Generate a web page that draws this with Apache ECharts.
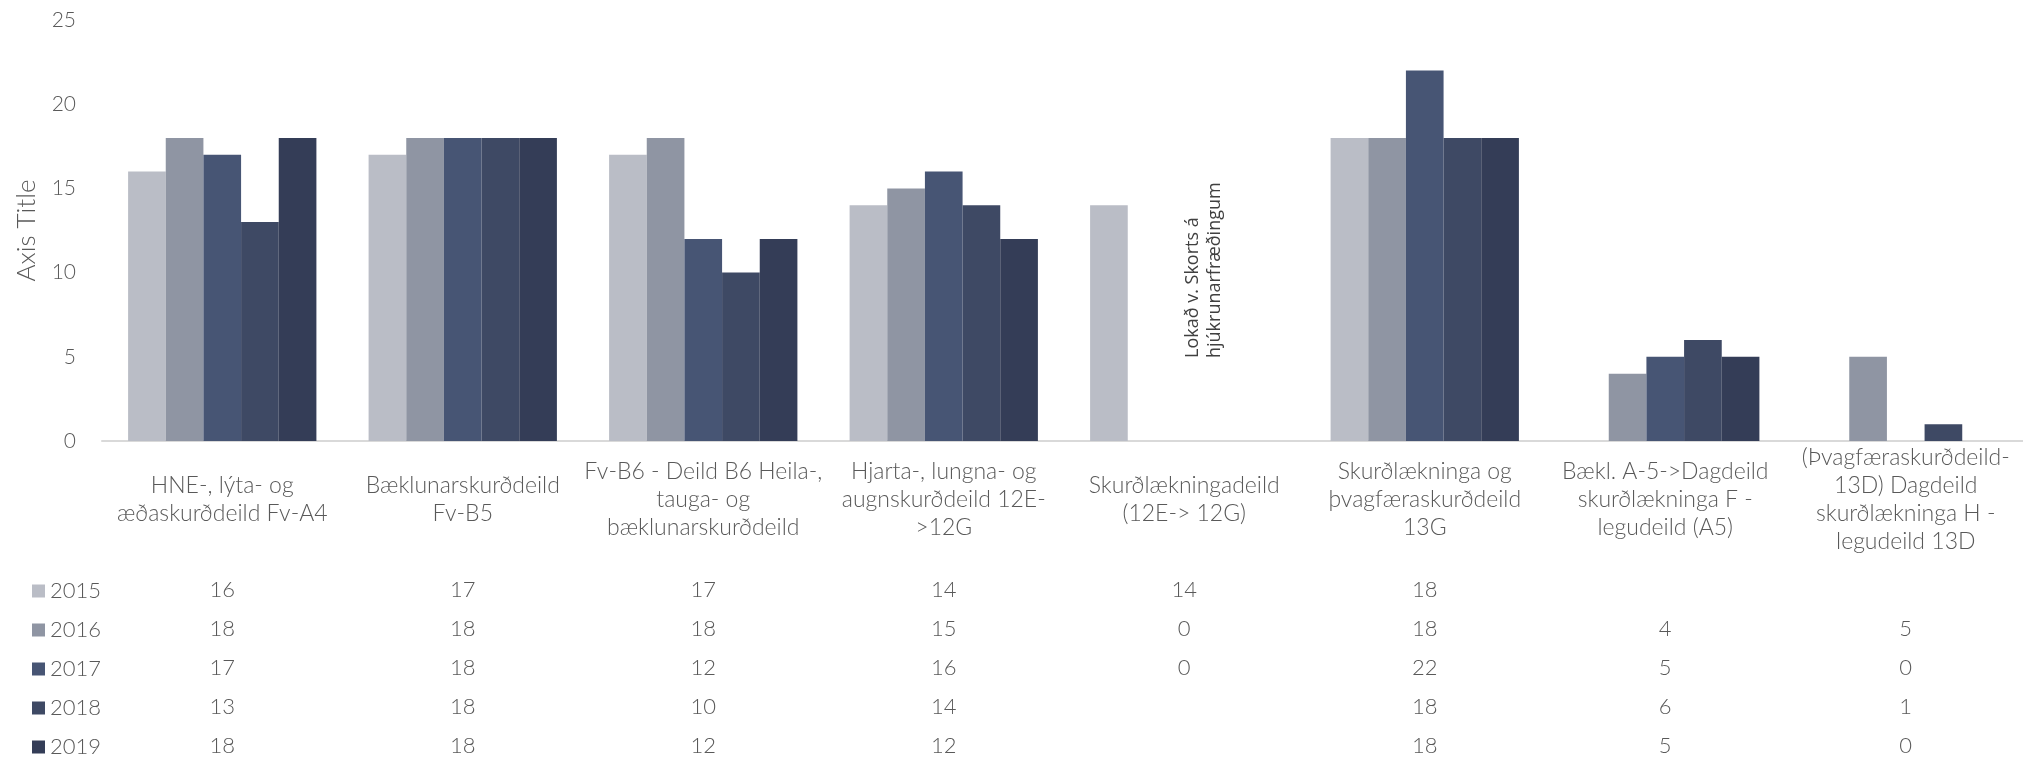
<!DOCTYPE html>
<html>
<head>
<meta charset="utf-8">
<title>Legudeildir – fjöldi rúma 2015–2019</title>
<script src="https://cdn.jsdelivr.net/npm/echarts@6/dist/echarts.min.js"></script>
<style>
  html, body { margin: 0; padding: 0; background: #ffffff; }
  #chart { width: 2023px; height: 758px; }
</style>
</head>
<body>
<div id="chart"></div>
<script>
// Departments (wrapped as they appear under the axis)
const categories = [
  'HNE-, lýta- og\næðaskurðdeild Fv-A4',
  'Bæklunarskurðdeild\nFv-B5',
  'Fv-B6 - Deild B6 Heila-,\ntauga- og\nbæklunarskurðdeild',
  'Hjarta-, lungna- og\naugnskurðdeild 12E-\n>12G',
  'Skurðlækningadeild\n(12E-> 12G)',
  'Skurðlækninga og\nþvagfæraskurðdeild\n13G',
  'Bækl. A-5->Dagdeild\nskurðlækninga F -\nlegudeild (A5)',
  '(Þvagfæraskurðdeild-\n13D) Dagdeild\nskurðlækninga H -\nlegudeild 13D'
];

const years = ['2015', '2016', '2017', '2018', '2019'];

// Values per year (null = no entry in the table)
const values2015 = [16, 17, 17, 14, 14, 18, null, null];
const values2016 = [18, 18, 18, 15, 0, 18, 4, 5];
const values2017 = [17, 18, 12, 16, 0, 22, 5, 0];
const values2018 = [13, 18, 10, 14, null, 18, 6, 1];
const values2019 = [18, 18, 12, 12, null, 18, 5, 0];

const yearColors = ['#babdc6', '#8f95a3', '#475574', '#3e4964', '#343d57'];

const noteText = 'Lokað v. Skorts á\nhjúkrunarfræðingum';

const seriesValues = [values2015, values2016, values2017, values2018, values2019];

const FONT = 'Lato, "Source Sans Pro", Roboto, sans-serif';
const TEXT_COLOR = '#595959';

const chart = echarts.init(document.getElementById('chart'), null, { renderer: 'canvas' });

// Data table rows below the chart: one label-only category axis per year
const tableAxes = seriesValues.map((vals, i) => ({
  type: 'category',
  gridIndex: 0,
  position: 'bottom',
  data: categories,
  axisLine: { show: false },
  axisTick: { show: false },
  splitLine: { show: false },
  axisLabel: {
    interval: 0,
    margin: 149 + i * 39,
    verticalAlign: 'middle',
    fontFamily: FONT,
    fontWeight: 300,
    fontSize: 22,
    color: TEXT_COLOR,
    formatter: (value, idx) => (vals[idx] === null || vals[idx] === undefined) ? '' : String(vals[idx])
  }
}));

const option = {
  backgroundColor: '#ffffff',
  animation: false,
  color: yearColors,
  grid: {
    left: 102,
    right: -3,
    top: 20,
    bottom: 317,
    containLabel: false,
    outerBoundsMode: 'none'
  },
  legend: {
    orient: 'vertical',
    left: 27,
    top: 575,
    height: 183,
    padding: 5,
    itemWidth: 13,
    itemHeight: 13,
    itemGap: 17,
    icon: 'rect',
    data: years,
    textStyle: {
      fontFamily: FONT,
      fontWeight: 300,
      fontSize: 22,
      lineHeight: 22,
      color: TEXT_COLOR
    }
  },
  xAxis: [
    {
      type: 'category',
      data: categories,
      axisLine: { show: true, lineStyle: { color: '#d9d9d9', width: 2 } },
      axisTick: { show: false },
      splitLine: { show: false },
      axisLabel: {
        interval: 0,
        margin: 59,
        verticalAlign: 'middle',
        align: 'center',
        lineHeight: 28,
        fontFamily: FONT,
        fontWeight: 300,
        fontSize: 23,
        color: TEXT_COLOR
      }
    }
  ].concat(tableAxes),
  yAxis: {
    type: 'value',
    min: 0,
    max: 25,
    interval: 5,
    name: 'Axis Title',
    nameLocation: 'middle',
    nameRotate: 90,
    nameGap: 62,
    nameMoveOverlap: false,
    nameTextStyle: {
      fontFamily: FONT,
      fontWeight: 300,
      fontSize: 26,
      color: TEXT_COLOR
    },
    axisLine: { show: false },
    axisTick: { show: false },
    splitLine: { show: false },
    axisLabel: {
      margin: 26,
      fontFamily: FONT,
      fontWeight: 300,
      fontSize: 21,
      color: TEXT_COLOR
    }
  },
  series: years.map((y, i) => ({
    name: y,
    type: 'bar',
    xAxisIndex: 0,
    data: seriesValues[i],
    barGap: '0%',
    barCategoryGap: '21.7%',
    itemStyle: { color: yearColors[i] },
    emphasis: { disabled: true }
  })),
  graphic: [
    {
      type: 'text',
      x: 1182,
      y: 358,
      rotation: Math.PI / 2,
      silent: true,
      style: {
        text: noteText,
        x: 0,
        y: 0,
        align: 'left',
        verticalAlign: 'top',
        fontFamily: '"Open Sans", "Noto Sans", sans-serif',
        fontSize: 18,
        lineHeight: 22,
        fill: '#404040'
      }
    }
  ]
};

chart.setOption(option);
</script>
</body>
</html>
